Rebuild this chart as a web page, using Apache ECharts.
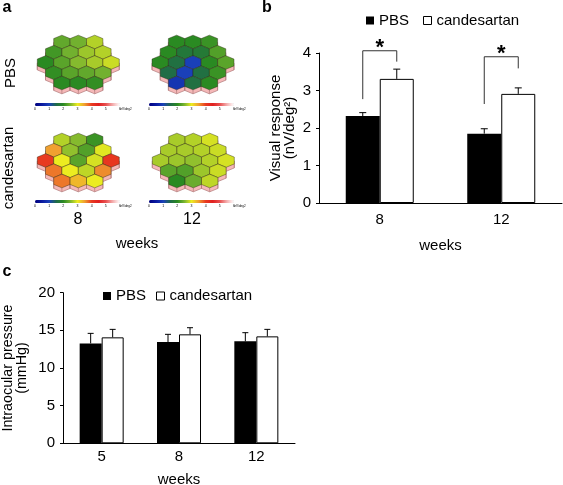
<!DOCTYPE html>
<html>
<head>
<meta charset="utf-8">
<script src="https://cdn.jsdelivr.net/npm/echarts@6/dist/echarts.min.js"></script>
<style>html,body{margin:0;padding:0;background:#fff;}#c{width:563px;height:485px;}</style>
</head>
<body>
<div id="c"></div>
<script>
// ---- Panel a: hexagonal response maps (rows top->bottom, values in nV/deg2)
const hexPBS8 = [[2.35,2.45,2.75],[2.15,2.45,2.65,2.75],[2.0,2.3,2.55,2.7,2.85],[2.05,2.3,2.35,2.45],[2.0,2.0,2.05]];
const hexPBS12 = [[2.0,2.0,2.1],[2.0,1.7,1.75,2.25],[2.0,1.6,1.0,2.0,2.3],[1.55,1.0,1.6,2.1],[0.85,1.6,2.0]];
const hexCand8 = [[2.75,2.55,2.1],[3.5,2.6,2.25,2.95],[4.0,3.0,2.3,2.9,4.05],[3.7,3.0,2.8,3.6],[3.7,3.35,3.0]];
const hexCand12 = [[2.7,2.75,2.9],[2.7,2.7,2.75,2.85],[2.7,2.65,2.6,2.75,2.9],[2.3,2.25,2.65,2.85],[2.0,2.4,2.8]];
const colorbarTicks = ['0','1','2','3','4','5','6'];

// ---- Panel b: visual response
const weeksB = ['8','12'];
const pbsB = [2.32, 1.85];
const pbsBErr = [0.09, 0.13];
const candB = [3.31, 2.91];
const candBErr = [0.26, 0.16];
const sigLeft = [2.77, 2.64];
const sigRight = [3.77, 3.59];
const sigTop = [4.06, 3.90];
const yTicksB = [0,1,2,3,4];

// ---- Panel c: intraocular pressure
const weeksC = ['5','8','12'];
const pbsC = [13.27, 13.45, 13.54];
const pbsCErr = [1.33, 1.02, 1.15];
const candC = [14.07, 14.47, 14.2];
const candCErr = [1.06, 0.88, 0.93];
const yTicksC = [0,5,10,15,20];

const FONT = '"Liberation Sans", Arial, sans-serif';
const hexColors = ['#00007f','#0a1aa0','#1a40b8','#1f6a4a','#2a8a22','#7ab530','#ecec20','#f0a030','#e83a20','#e02020','#e85050','#f4b0b0','#ffffff'];

function hexData(rows){
  const out = [];
  rows.forEach((row, r) => {
    const n = row.length;
    row.forEach((v, i) => out.push([-(n-1)/2 + i, 2 - r, v]));
  });
  return out;
}
function hexPoints(api, dy){
  const c = api.coord([api.value(0), api.value(1)]);
  const w = api.size([1,0])[0];
  const rs = api.size([0,1])[1];
  const h = rs*4/3;
  const x = c[0], y = c[1] + dy;
  return [[x, y-h/2],[x+w/2, y-h/4],[x+w/2, y+h/4],[x, y+h/2],[x-w/2, y+h/4],[x-w/2, y-h/4]];
}
function hexRender(params, api){
  return {type:'polygon', shape:{points:hexPoints(api,0)},
    style:{fill:api.visual('color'), stroke:'rgba(40,40,20,0.6)', lineWidth:0.7}};
}
function pinkRender(params, api){
  const p = hexPoints(api, 0), q = hexPoints(api, 4);
  const kids = [{type:'polygon', shape:{points:q}, style:{fill:'#f5b8b8', stroke:'#b07a7a', lineWidth:0.7}}];
  [2,3,4].forEach(k => kids.push({type:'line', shape:{x1:p[k][0],y1:p[k][1],x2:q[k][0],y2:q[k][1]}, style:{stroke:'#b07a7a', lineWidth:0.7}}));
  return {type:'group', children:kids};
}
function errRender(sign, barW, capW){
  return function(params, api){
    const idx = api.value(0);
    const b = api.coord([idx, api.value(1)]);
    const t = api.coord([idx, api.value(1) + api.value(2)]);
    const x = b[0] + sign*barW/2;
    return {type:'group', children:[
      {type:'line', shape:{x1:x, y1:b[1], x2:x, y2:t[1]}, style:{stroke:'#000', lineWidth:1}},
      {type:'line', shape:{x1:x-capW/2, y1:t[1], x2:x+capW/2, y2:t[1]}, style:{stroke:'#000', lineWidth:1}}
    ]};
  };
}
function sigRender(params, api){
  const idx = api.value(0);
  const l = api.coord([idx, api.value(1)]);
  const r = api.coord([idx, api.value(2)]);
  const t = api.coord([idx, api.value(3)]);
  const xl = l[0] - 17, xr = l[0] + 17;
  const st = {stroke:'#333', lineWidth:1};
  return {type:'group', children:[
    {type:'polyline', shape:{points:[[xl,l[1]],[xl,t[1]],[xr,t[1]],[xr,r[1]]]}, style:Object.assign({fill:null}, st)},
    {type:'text', x:l[0], y:t[1]-3, style:{text:'*', font:'bold 22px '+FONT, fill:'#000', align:'center', verticalAlign:'middle'}}
  ]};
}

const hexGrids = [
  {left:37.3, top:42, width:82, height:41},
  {left:152, top:42, width:82, height:41},
  {left:37.3, top:140, width:82, height:41},
  {left:152.3, top:140, width:82, height:41}
];
const hexSets = [hexPBS8, hexPBS12, hexCand8, hexCand12];
const bars = [
  {left:35, top:103}, {left:149, top:103}, {left:35, top:200}, {left:149, top:200}
];

const grid = hexGrids.concat([
  {left:319, top:53, width:243, height:150},
  {left:63, top:292.7, width:232, height:150.6}
]).map(g => Object.assign({outerBoundsMode:'none', containLabel:false}, g));
const xAxis = [], yAxis = [];
for (let i=0;i<4;i++){
  xAxis.push({gridIndex:i, type:'value', min:-2.5, max:2.5, show:false});
  yAxis.push({gridIndex:i, type:'value', min:-2, max:2, show:false});
}
const axisCommon = {
  axisLine:{show:true, lineStyle:{color:'#000', width:1}},
  splitLine:{show:false}
};
xAxis.push(Object.assign({gridIndex:4, type:'category', data:weeksB, axisTick:{show:false},
  axisLabel:{fontSize:15, color:'#000', fontFamily:FONT, margin:9},
  name:'weeks', nameLocation:'middle', nameGap:35, nameTextStyle:{fontSize:15, color:'#000', fontFamily:FONT}}, axisCommon));
yAxis.push(Object.assign({gridIndex:4, type:'value', min:yTicksB[0], max:yTicksB[yTicksB.length-1], interval:1,
  axisTick:{show:true, length:3, lineStyle:{color:'#000'}},
  axisLabel:{fontSize:15, color:'#000', fontFamily:FONT, margin:8},
  name:'Visual response\n(nV/deg²)', nameLocation:'middle', nameRotate:90, nameGap:22,
  nameTextStyle:{fontSize:15, color:'#000', fontFamily:FONT, lineHeight:14}}, axisCommon));
xAxis.push(Object.assign({gridIndex:5, type:'category', data:weeksC, axisTick:{show:false},
  axisLabel:{fontSize:15, color:'#000', fontFamily:FONT, margin:6},
  name:'weeks', nameLocation:'middle', nameGap:29, nameTextStyle:{fontSize:15, color:'#000', fontFamily:FONT}}, axisCommon));
yAxis.push(Object.assign({gridIndex:5, type:'value', min:yTicksC[0], max:yTicksC[yTicksC.length-1], interval:5,
  axisTick:{show:true, length:3, lineStyle:{color:'#000'}},
  axisLabel:{fontSize:15, color:'#000', fontFamily:FONT, margin:8},
  name:'Intraocular pressure\n(mmHg)', nameLocation:'middle', nameRotate:90, nameGap:34,
  nameTextStyle:{fontSize:14.3, color:'#000', fontFamily:FONT, lineHeight:14}}, axisCommon));

const series = [];
const visualMap = [];
hexSets.forEach((rows, i) => {
  const d = hexData(rows);
  series.push({type:'custom', name:'base'+i, xAxisIndex:i, yAxisIndex:i, renderItem:pinkRender, data:d, silent:true, clip:false, z:1});
});
hexSets.forEach((rows, i) => {
  const d = hexData(rows);
  visualMap.push({type:'continuous', seriesIndex:series.length, dimension:2, min:0, max:6,
    inRange:{color:hexColors}, orient:'horizontal', itemWidth:3, itemHeight:85,
    left:bars[i].left, top:bars[i].top, padding:0, calculable:false, text:['',''], hoverLink:false,
    textStyle:{fontSize:1}});
  series.push({type:'custom', name:'map'+i, xAxisIndex:i, yAxisIndex:i, renderItem:hexRender, data:d, silent:true, clip:false, z:2});
});

// panel b bars
series.push({type:'bar', name:'PBS', xAxisIndex:4, yAxisIndex:4, data:pbsB, barWidth:34, barGap:'0%',
  itemStyle:{color:'#000'}});
series.push({type:'bar', name:'candesartan', xAxisIndex:4, yAxisIndex:4, data:candB, barWidth:34, barGap:'0%',
  itemStyle:{color:'#fff', borderColor:'#000', borderWidth:1}});
series.push({type:'custom', xAxisIndex:4, yAxisIndex:4, renderItem:errRender(-1,34,7), z:5,
  data:pbsB.map((v,i)=>[i, v, pbsBErr[i]])});
series.push({type:'custom', xAxisIndex:4, yAxisIndex:4, renderItem:errRender(1,34,7), z:5,
  data:candB.map((v,i)=>[i, v, candBErr[i]])});
series.push({type:'custom', xAxisIndex:4, yAxisIndex:4, renderItem:sigRender, z:5, clip:false,
  data:weeksB.map((w,i)=>[i, sigLeft[i], sigRight[i], sigTop[i]])});
// panel c bars
series.push({type:'bar', name:'PBS', xAxisIndex:5, yAxisIndex:5, data:pbsC, barWidth:22, barGap:'0%',
  itemStyle:{color:'#000'}});
series.push({type:'bar', name:'candesartan', xAxisIndex:5, yAxisIndex:5, data:candC, barWidth:22, barGap:'0%',
  itemStyle:{color:'#fff', borderColor:'#000', borderWidth:1}});
series.push({type:'custom', xAxisIndex:5, yAxisIndex:5, renderItem:errRender(-1,22,6), z:5,
  data:pbsC.map((v,i)=>[i, v, pbsCErr[i]])});
series.push({type:'custom', xAxisIndex:5, yAxisIndex:5, renderItem:errRender(1,22,6), z:5,
  data:candC.map((v,i)=>[i, v, candCErr[i]])});

const legendData = [
  {name:'PBS', icon:'rect', itemStyle:{color:'#000'}},
  {name:'candesartan', icon:'rect', itemStyle:{color:'#fff', borderColor:'#000', borderWidth:1}}
];
const legend = [
  {data:legendData, left:366, top:13, padding:0, itemWidth:8, itemHeight:8, itemGap:14, selectedMode:false,
   textStyle:{fontSize:15, color:'#000', fontFamily:FONT}},
  {data:legendData, left:103, top:288.5, padding:0, itemWidth:8, itemHeight:8, itemGap:10, selectedMode:false,
   textStyle:{fontSize:15, color:'#000', fontFamily:FONT}}
];

const graphic = [];
function txt(x, y, s, size, opts){
  graphic.push(Object.assign({type:'text', x:x, y:y, silent:true,
    style:{text:s, font:(opts && opts.weight ? opts.weight+' ' : '')+size+'px '+FONT, fill:'#000',
      align:'center', verticalAlign:'middle'}}, opts && opts.rotation ? {rotation:opts.rotation} : {}));
}
txt(7, 8, 'a', 16, {weight:'bold'});
txt(267, 8, 'b', 16, {weight:'bold'});
txt(7, 272, 'c', 16, {weight:'bold'});
txt(11, 73, 'PBS', 15, {rotation:Math.PI/2});
txt(9, 168, 'candesartan', 15, {rotation:Math.PI/2});
txt(78, 220, weeksB[0], 16);
txt(192, 220, weeksB[1], 16);
txt(137, 244, 'weeks', 15);
bars.forEach(b => {
  colorbarTicks.forEach((t, k) => {
    txt(b.left + k*85/6, b.top + 6, t, 3.5);
  });
  txt(b.left + 91, b.top + 6, 'nV/deg2', 3);
});

const chart = echarts.init(document.getElementById('c'), null, {renderer:'canvas'});
chart.setOption({
  animation:false,
  backgroundColor:'#fff',
  textStyle:{fontFamily:FONT},
  grid:grid, xAxis:xAxis, yAxis:yAxis, series:series, visualMap:visualMap, legend:legend, graphic:graphic
});
</script>
</body>
</html>
